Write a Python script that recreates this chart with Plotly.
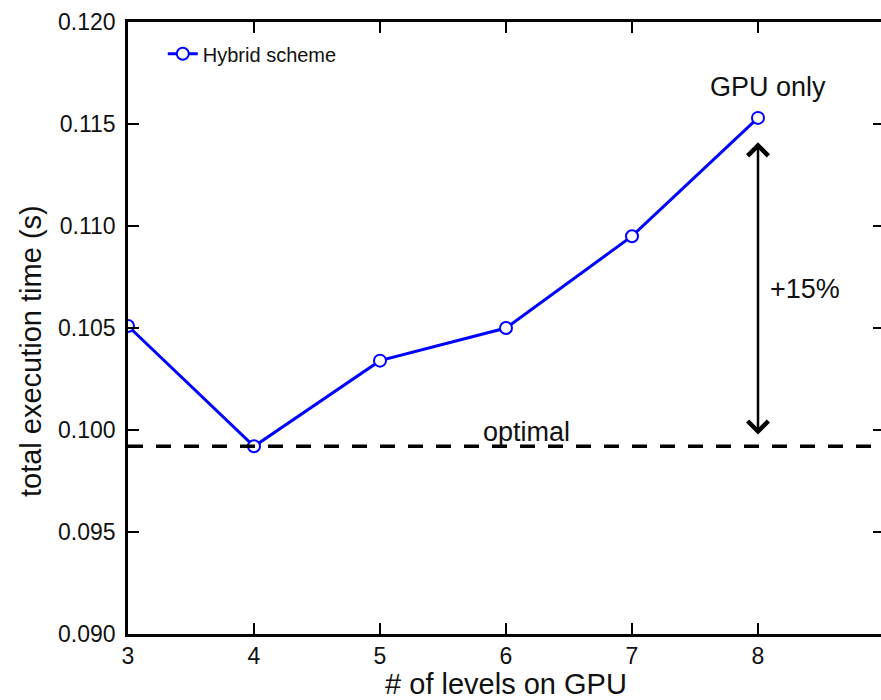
import plotly.graph_objects as go

# data
levels = [3, 4, 5, 6, 7, 8]
exec_time = [0.1051, 0.0992, 0.1034, 0.1050, 0.1095, 0.1153]
optimal_time = 0.0992
arrow_top = 0.1141
arrow_bottom = 0.0997
series_name = "Hybrid scheme"
y_ticks = [0.090, 0.095, 0.100, 0.105, 0.110, 0.115, 0.120]
y_tick_labels = ["0.090", "0.095", "0.100", "0.105", "0.110", "0.115", "0.120"]
x_ticks = [3, 4, 5, 6, 7, 8, 9]

FONT = "Liberation Sans, Arial, Helvetica, sans-serif"

fig = go.Figure()
fig.add_trace(go.Scatter(
    x=levels, y=exec_time, mode="lines+markers", name=series_name,
    line=dict(color="#0000ff", width=3),
    marker=dict(symbol="circle", size=12, color="white",
                line=dict(color="#0000ff", width=2)),
))

# optimal dashed line
fig.add_shape(type="line", xref="paper", x0=0, x1=1, yref="y",
              y0=optimal_time, y1=optimal_time,
              line=dict(color="black", width=3.5, dash="15px,13px"))

# double arrow
fig.add_annotation(x=levels[-1], y=arrow_top, ax=levels[-1], ay=arrow_bottom,
                   xref="x", yref="y", axref="x", ayref="y",
                   text="", showarrow=True, arrowside="end+start",
                   arrowhead=4, startarrowhead=4, arrowsize=1.6, startarrowsize=1.6,
                   arrowwidth=2.5, arrowcolor="black", standoff=0, startstandoff=0)

fig.add_annotation(x=8.08, y=0.1168, xref="x", yref="y", text="GPU only",
                   showarrow=False, font=dict(family=FONT, size=27, color="#111"))
fig.add_annotation(x=8.37, y=0.1069, xref="x", yref="y", text="+15%",
                   showarrow=False, font=dict(family=FONT, size=27, color="#111"))
fig.add_annotation(x=6.16, y=0.0999, xref="x", yref="y", text="optimal",
                   showarrow=False, font=dict(family=FONT, size=27, color="#111"))

# y-axis title
fig.add_annotation(x=-0.1283, y=0.4624, xref="paper", yref="paper",
                   text="total execution time (s)", textangle=-90,
                   xanchor="center", yanchor="middle", showarrow=False,
                   font=dict(family=FONT, size=29, color="#111"))

fig.update_layout(
    width=884, height=700,
    margin=dict(l=128, r=0, t=22, b=66, autoexpand=False),
    plot_bgcolor="white", paper_bgcolor="white",
    font=dict(family=FONT, color="#111"),
    showlegend=True,
    legend=dict(x=0.046, y=0.980, xanchor="left", yanchor="top",
                bgcolor="rgba(0,0,0,0)", borderwidth=0,
                font=dict(family=FONT, size=20, color="#111")),
    xaxis=dict(range=[3, 9], tickvals=x_ticks, ticks="inside", ticklen=11,
               tickwidth=2, tickcolor="black", showline=True, linecolor="black",
               linewidth=2.5, mirror="ticks", showgrid=False, zeroline=False,
               tickfont=dict(family=FONT, size=23, color="#111"),
               title=dict(text="# of levels on GPU", standoff=12,
                          font=dict(family=FONT, size=29, color="#111")),
               automargin=False),
    yaxis=dict(range=[0.090, 0.120], tickvals=y_ticks, ticktext=y_tick_labels,
               ticks="inside", ticklen=11, tickwidth=2, tickcolor="black",
               showline=True, linecolor="black", linewidth=2.5, mirror="ticks",
               showgrid=False, zeroline=False, ticklabelstandoff=5,
               tickfont=dict(family=FONT, size=23, color="#111"),
               automargin=False),
)

fig.write_html(
    "out.html",
    config={"displayModeBar": False},
    post_script="document.body.style.margin='0';document.body.style.overflow='hidden';"
                "document.documentElement.style.overflow='hidden';",
)
